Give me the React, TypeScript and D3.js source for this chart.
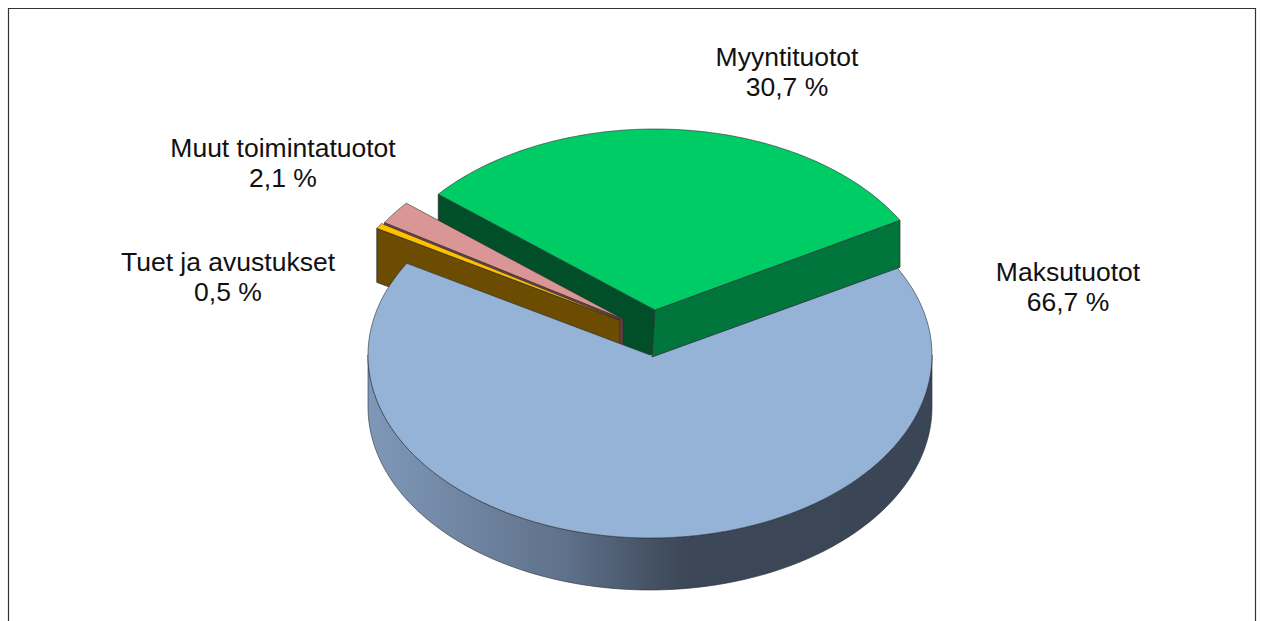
import * as d3 from "d3";

const categories = ["Maksutuotot", "Tuet ja avustukset", "Muut toimintatuotot", "Myyntituotot"];
const shares = [66.7, 0.5, 2.1, 30.7];
const shareLabels = ["66,7 %", "0,5 %", "2,1 %", "30,7 %"];
const topColors = ["#95b3d7", "#ffc000", "#d99694", "#00cc66"];
const wallColors = ["#5d6f88", "#6b4c00", "#70403f", "#004f29"];
const explodeX = [0, -30, -27, 5];
const explodeY = [0, -35, -36, -45];
const depths = [52, 54, 52, 47];
const labelX = [1068, 228, 283, 787];
const labelY = [272, 262, 148, 57];

const width = 1262;
const height = 621;
const cx = 650;
const cy = 355;
const rx = 282;
const ryBack = 181;
const ryFront = 183;
const startDeg = 60.3;
const edge = "#2b2f33";

const pie = d3
  .pie<number>()
  .sort(null)
  .startAngle((startDeg * Math.PI) / 180)
  .endAngle((startDeg * Math.PI) / 180 + 2 * Math.PI);
const arcs = pie(shares);

const point = (i: number, a: number, down = 0): [number, number] => {
  const c = Math.cos(a);
  return [
    cx + explodeX[i] + rx * Math.sin(a),
    cy + explodeY[i] - (c > 0 ? ryBack : ryFront) * c + down,
  ];
};
const apex = (i: number, down = 0): [number, number] => [cx + explodeX[i], cy + explodeY[i] + down];
const line = d3.line();

const arcPoints = (i: number, a0: number, a1: number, down = 0) =>
  d3.range(0, 121).map((k) => point(i, a0 + ((a1 - a0) * k) / 120, down));

const topPath = (i: number) =>
  line([apex(i), ...arcPoints(i, arcs[i].startAngle, arcs[i].endAngle), apex(i)]) + "Z";

// radial face below the edge at angle a
const wallPath = (i: number, a: number, skew = 0, extra = 0) => {
  const d = depths[i] + extra;
  const b = apex(i, d);
  return line([point(i, a), apex(i), [b[0] + skew, b[1]], point(i, a, d)]) + "Z";
};

const sidePath = () => {
  const a0 = Math.PI / 2;
  const a1 = (3 * Math.PI) / 2;
  return line([...arcPoints(0, a0, a1), ...arcPoints(0, a1, a0, depths[0])]) + "Z";
};

const greenSkew = -3;

export default function App() {
  const [blue, orange, pink, green] = [0, 1, 2, 3];
  return (
    <svg
      width={width}
      height={height}
      style={{ position: "absolute", left: 0, top: 0, background: "#fff" }}
      fontFamily="'Liberation Sans', Arial, sans-serif"
    >
      <defs>
        <linearGradient id="side" gradientUnits="userSpaceOnUse" x1={cx - rx} x2={cx + rx} y1={0} y2={0}>
          <stop offset="0" stopColor="#7f98b8" />
          <stop offset="0.35" stopColor="#5f718b" />
          <stop offset="0.56" stopColor="#3c4757" />
          <stop offset="1" stopColor="#3a4556" />
        </linearGradient>
      </defs>

      <path d={`M8.5,${height}V8.5H1255.5V${height}`} fill="none" stroke="#333" strokeWidth={1.2} />

      <path d={sidePath()} fill="url(#side)" stroke={edge} strokeWidth={0.6} />

      {/* left green wall runs deep, the blue top cuts it off */}
      <path d={wallPath(green, arcs[green].startAngle, greenSkew, 10)} fill={wallColors[green]} stroke={edge} strokeWidth={0.8} />

      <path d={wallPath(pink, arcs[pink].startAngle)} fill={wallColors[pink]} stroke={edge} strokeWidth={0.8} />
      <path d={topPath(pink)} fill={topColors[pink]} stroke={edge} strokeWidth={0.6} />

      <path d={wallPath(orange, arcs[orange].startAngle)} fill={wallColors[orange]} stroke={edge} strokeWidth={0.8} />
      <path d={topPath(orange)} fill={topColors[orange]} stroke={edge} strokeWidth={0.6} />

      <path d={topPath(blue)} fill={topColors[blue]} stroke={edge} strokeWidth={0.6} />

      <path d={wallPath(green, arcs[green].endAngle, greenSkew)} fill="#00763c" stroke={edge} strokeWidth={0.8} />
      <path d={topPath(green)} fill={topColors[green]} stroke={edge} strokeWidth={0.6} />

      {categories.map((name, i) => (
        <text key={name} x={labelX[i]} textAnchor="middle" fontSize={26.5} fill="#111">
          <tspan x={labelX[i]} y={labelY[i] + 9}>
            {name}
          </tspan>
          <tspan x={labelX[i]} y={labelY[i] + 39}>
            {shareLabels[i]}
          </tspan>
        </text>
      ))}
    </svg>
  );
}
